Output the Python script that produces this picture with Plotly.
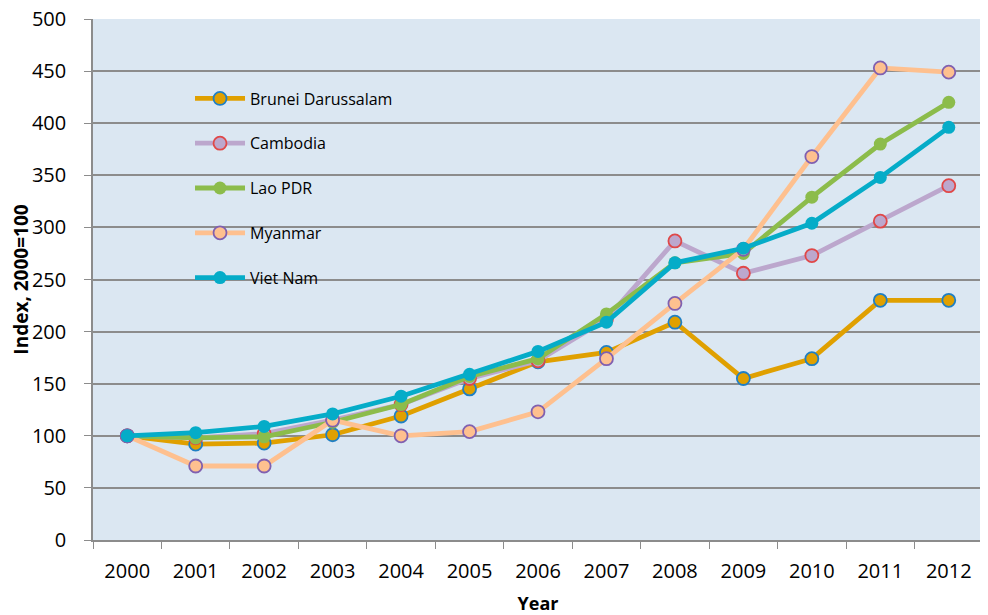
import plotly.graph_objects as go

years = [str(y) for y in range(2000, 2013)]

brunei = [100, 92, 93, 101, 119, 145, 171, 180, 209, 155, 174, 230, 230]
cambodia = [100, 98, 102, 115, 130, 155, 172, 212, 287, 256, 273, 306, 340]
lao = [100, 98, 99, 113, 130, 157, 174, 217, 266, 275, 329, 380, 420]
myanmar = [100, 71, 71, 115, 100, 104, 123, 174, 227, 279, 368, 453, 449]
vietnam = [100, 103, 109, 121, 138, 159, 181, 209, 266, 280, 304, 348, 396]

series = [
    ("Brunei Darussalam", brunei, "#e0a000", "#1f7fc4", 1.8),
    ("Cambodia", cambodia, "#bca7cd", "#e04848", 1.8),
    ("Lao PDR", lao, "#8cbc4b", "#8cbc4b", 0),
    ("Myanmar", myanmar, "#fec08f", "#8060b0", 1.8),
    ("Viet Nam", vietnam, "#05acc8", "#05acc8", 0),
]

fig = go.Figure()

for i, (name, vals, col, edge, ew) in enumerate(series):
    fig.add_trace(go.Scatter(
        x=years, y=vals, name=name, mode="lines+markers",
        legendgroup=str(i),
        line=dict(color=col, width=4.8),
        marker=dict(size=13, color=col, line=dict(color=edge, width=ew)),
    ))

font = "Open Sans, Lato, sans-serif"

# the page body adds an 8px offset, so the figure is drawn 8px smaller
fig.update_layout(
    width=980, height=607,
    margin=dict(l=85, r=5, t=11, b=75),
    paper_bgcolor="white",
    plot_bgcolor="#dbe7f2",
    font=dict(family=font, size=20, color="black"),
    showlegend=True,
    legend=dict(
        x=0.109, y=0.88, xanchor="left", yanchor="top",
        bgcolor="rgba(0,0,0,0)", font=dict(size=16),
        tracegroupgap=21, itemwidth=50,
    ),
    xaxis=dict(
        type="category", range=[-0.5, len(years) - 0.5],
        tickson="boundaries", ticks="outside", ticklen=7, ticklabelstandoff=12,
        tickcolor="#8c8c8c", showline=True, linecolor="#8c8c8c", linewidth=1.5,
        showgrid=False, tickfont=dict(size=20), automargin=False,
        title=dict(text="<b>Year</b>", font=dict(size=18), standoff=18),
    ),
    yaxis=dict(
        range=[0, 500], dtick=50, ticks="outside", ticklen=7, ticklabelstandoff=14,
        ticklabeloverflow="allow",
        tickcolor="#8c8c8c", showline=True, linecolor="#8c8c8c", linewidth=1.5,
        gridcolor="#8c8c8c", gridwidth=1.5, zeroline=False,
        tickfont=dict(size=20), automargin=False,
        title=dict(text="<b>Index, 2000=100</b>", font=dict(size=19), standoff=6),
    ),
)

fig.write_html("out.html")
